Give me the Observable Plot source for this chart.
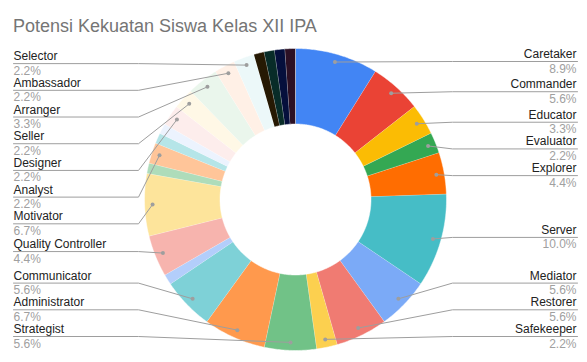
<!DOCTYPE html>
<html>
<head>
<meta charset="utf-8">
<script src="https://cdn.jsdelivr.net/npm/d3@7"></script>
<script src="https://cdn.jsdelivr.net/npm/@observablehq/plot@0.6"></script>
<style>
  html, body { margin: 0; padding: 0; background: #fff; }
  body { width: 587px; height: 362px; overflow: hidden; font-family: Arial, "Liberation Sans", sans-serif; }
  #title { position: relative; height: 40px; }
  #title span { position: absolute; left: 13px; top: 16px; font-size: 18px; line-height: 20px; color: #757575; white-space: nowrap; }
</style>
</head>
<body>
<div id="title"><span>Potensi Kekuatan Siswa Kelas XII IPA</span></div>
<div id="chart"></div>
<script>
// ---- data (counts of students, read from the percentages; total 90) ----
const names = [
  "Caretaker", "Commander", "Educator", "Evaluator", "Explorer", "Server",
  "Mediator", "Restorer", "Safekeeper", "Strategist", "Administrator", "Communicator",
  "Journalist", "Quality Controller", "Motivator", "Marketer", "Analyst", "Interpreter",
  "Synthesizer", "Designer", "Seller", "Arranger", "Ambassador", "Selector",
  "Creator", "Visionary", "Treasury", "Operator"
];
const values = [
  8, 5, 3, 2, 4, 9,
  5, 5, 2, 5, 6, 5,
  1, 4, 6, 1, 2, 1,
  1, 2, 2, 3, 2, 2,
  1, 1, 1, 1
];
const colors = [
  "#4285F4", "#EA4335", "#FBBC04", "#34A853", "#FF6D01", "#46BDC6",
  "#7BAAF7", "#F07B72", "#FCD04F", "#71C287", "#FF994D", "#7ED1D7",
  "#B3CEFB", "#F7B4AE", "#FDE49B", "#AEDCBA", "#FFC599", "#B5E5E8",
  "#ECF3FE", "#FDEDEC", "#FFF8E6", "#EAF6EC", "#FFF0E6", "#ECF8F9",
  "#261903", "#082C28", "#050F3C", "#2C1024"
];
const minLabelValue = 2; // smaller slices are not labelled

// ---- layout constants ----
const W = 587, H = 322;
const cx = 295, cy = 159;      // donut centre in the svg
const R = 151, r0 = 75.5, rDot = 143;
const labelX = 282, elbowX = 157;
const minY = -138, maxY = 137, gap = 26.7;

const total = d3.sum(values);
const pie = d3.pie().sort(null).startAngle(0).endAngle(2 * Math.PI);
const arcs = pie(values).map((a, i) => ({...a, name: names[i], color: colors[i]}));

// slice polygons (in px offsets from centre, y downward)
const slicePts = [];
for (const a of arcs) {
  const n = Math.max(2, Math.ceil((a.endAngle - a.startAngle) / 0.01));
  for (let k = 0; k <= n; k++) {
    const t = a.startAngle + (a.endAngle - a.startAngle) * k / n;
    slicePts.push({name: a.name, x: R * Math.sin(t), y: -R * Math.cos(t)});
  }
  for (let k = n; k >= 0; k--) {
    const t = a.startAngle + (a.endAngle - a.startAngle) * k / n;
    slicePts.push({name: a.name, x: r0 * Math.sin(t), y: -r0 * Math.cos(t)});
  }
}

// labels
const labels = arcs.filter(a => a.value >= minLabelValue).map(a => {
  const m = (a.startAngle + a.endAngle) / 2;
  const px = rDot * Math.sin(m), py = -rDot * Math.cos(m);
  return {name: a.name, value: a.value, side: m < Math.PI ? 1 : -1, px, py, ny: py - 1.5,
          pct: (a.value / total * 100).toFixed(1) + "%"};
});
function relax(items) {
  items.sort((a, b) => a.ny - b.ny);
  let prev = -Infinity;
  for (const d of items) { d.ly = Math.max(d.ny, minY, prev + gap); prev = d.ly; }
  let next = Infinity;
  for (let i = items.length - 1; i >= 0; i--) {
    const d = items[i]; d.ly = Math.min(d.ly, maxY, next - gap); next = d.ly;
  }
}
const rightLabels = labels.filter(d => d.side > 0);
const leftLabels = labels.filter(d => d.side < 0);
relax(rightLabels);
relax(leftLabels);

const leaders = [];
for (const d of labels) {
  leaders.push({name: d.name, x: d.side * labelX, y: d.ly});
  leaders.push({name: d.name, x: d.side * elbowX, y: d.ly});
  leaders.push({name: d.name, x: d.px, y: d.py});
}

const nameStyle = {text: "name", lineAnchor: "bottom", fontSize: 12, fill: "#222222"};
const pctStyle = {text: "pct", lineAnchor: "bottom", fontSize: 12, fill: "#a0a0a0"};

const chart = Plot.plot({
  width: W, height: H,
  margin: 0,
  style: {background: "#fff", fontFamily: "Arial, 'Liberation Sans', sans-serif", overflow: "visible"},
  x: {type: "linear", domain: [-cx, W - cx], range: [0, W], axis: null},
  y: {type: "linear", domain: [-cy, H - cy], range: [0, H], axis: null},
  color: {type: "ordinal", domain: names, range: colors},
  marks: [
    Plot.line(slicePts, {x: "x", y: "y", z: "name", fill: "name", stroke: "#ffffff", strokeWidth: 0.6, strokeOpacity: 0.8, curve: "linear"}),
    Plot.line(leaders, {x: "x", y: "y", z: "name", stroke: "#9e9e9e", strokeWidth: 1, curve: "linear"}),
    Plot.dot(labels, {x: "px", y: "py", r: 2, fill: "#9e9e9e", stroke: null}),
    Plot.text(leftLabels, {...nameStyle, x: d => -labelX, y: d => d.ly - 3.5, textAnchor: "start"}),
    Plot.text(rightLabels, {...nameStyle, x: d => labelX - 1, y: d => d.ly - 3.5, textAnchor: "end"}),
    Plot.text(leftLabels, {...pctStyle, x: d => -labelX, y: d => d.ly + 11, textAnchor: "start"}),
    Plot.text(rightLabels, {...pctStyle, x: d => labelX - 1, y: d => d.ly + 11, textAnchor: "end"})
  ]
});
document.getElementById("chart").appendChild(chart);
</script>
</body>
</html>
